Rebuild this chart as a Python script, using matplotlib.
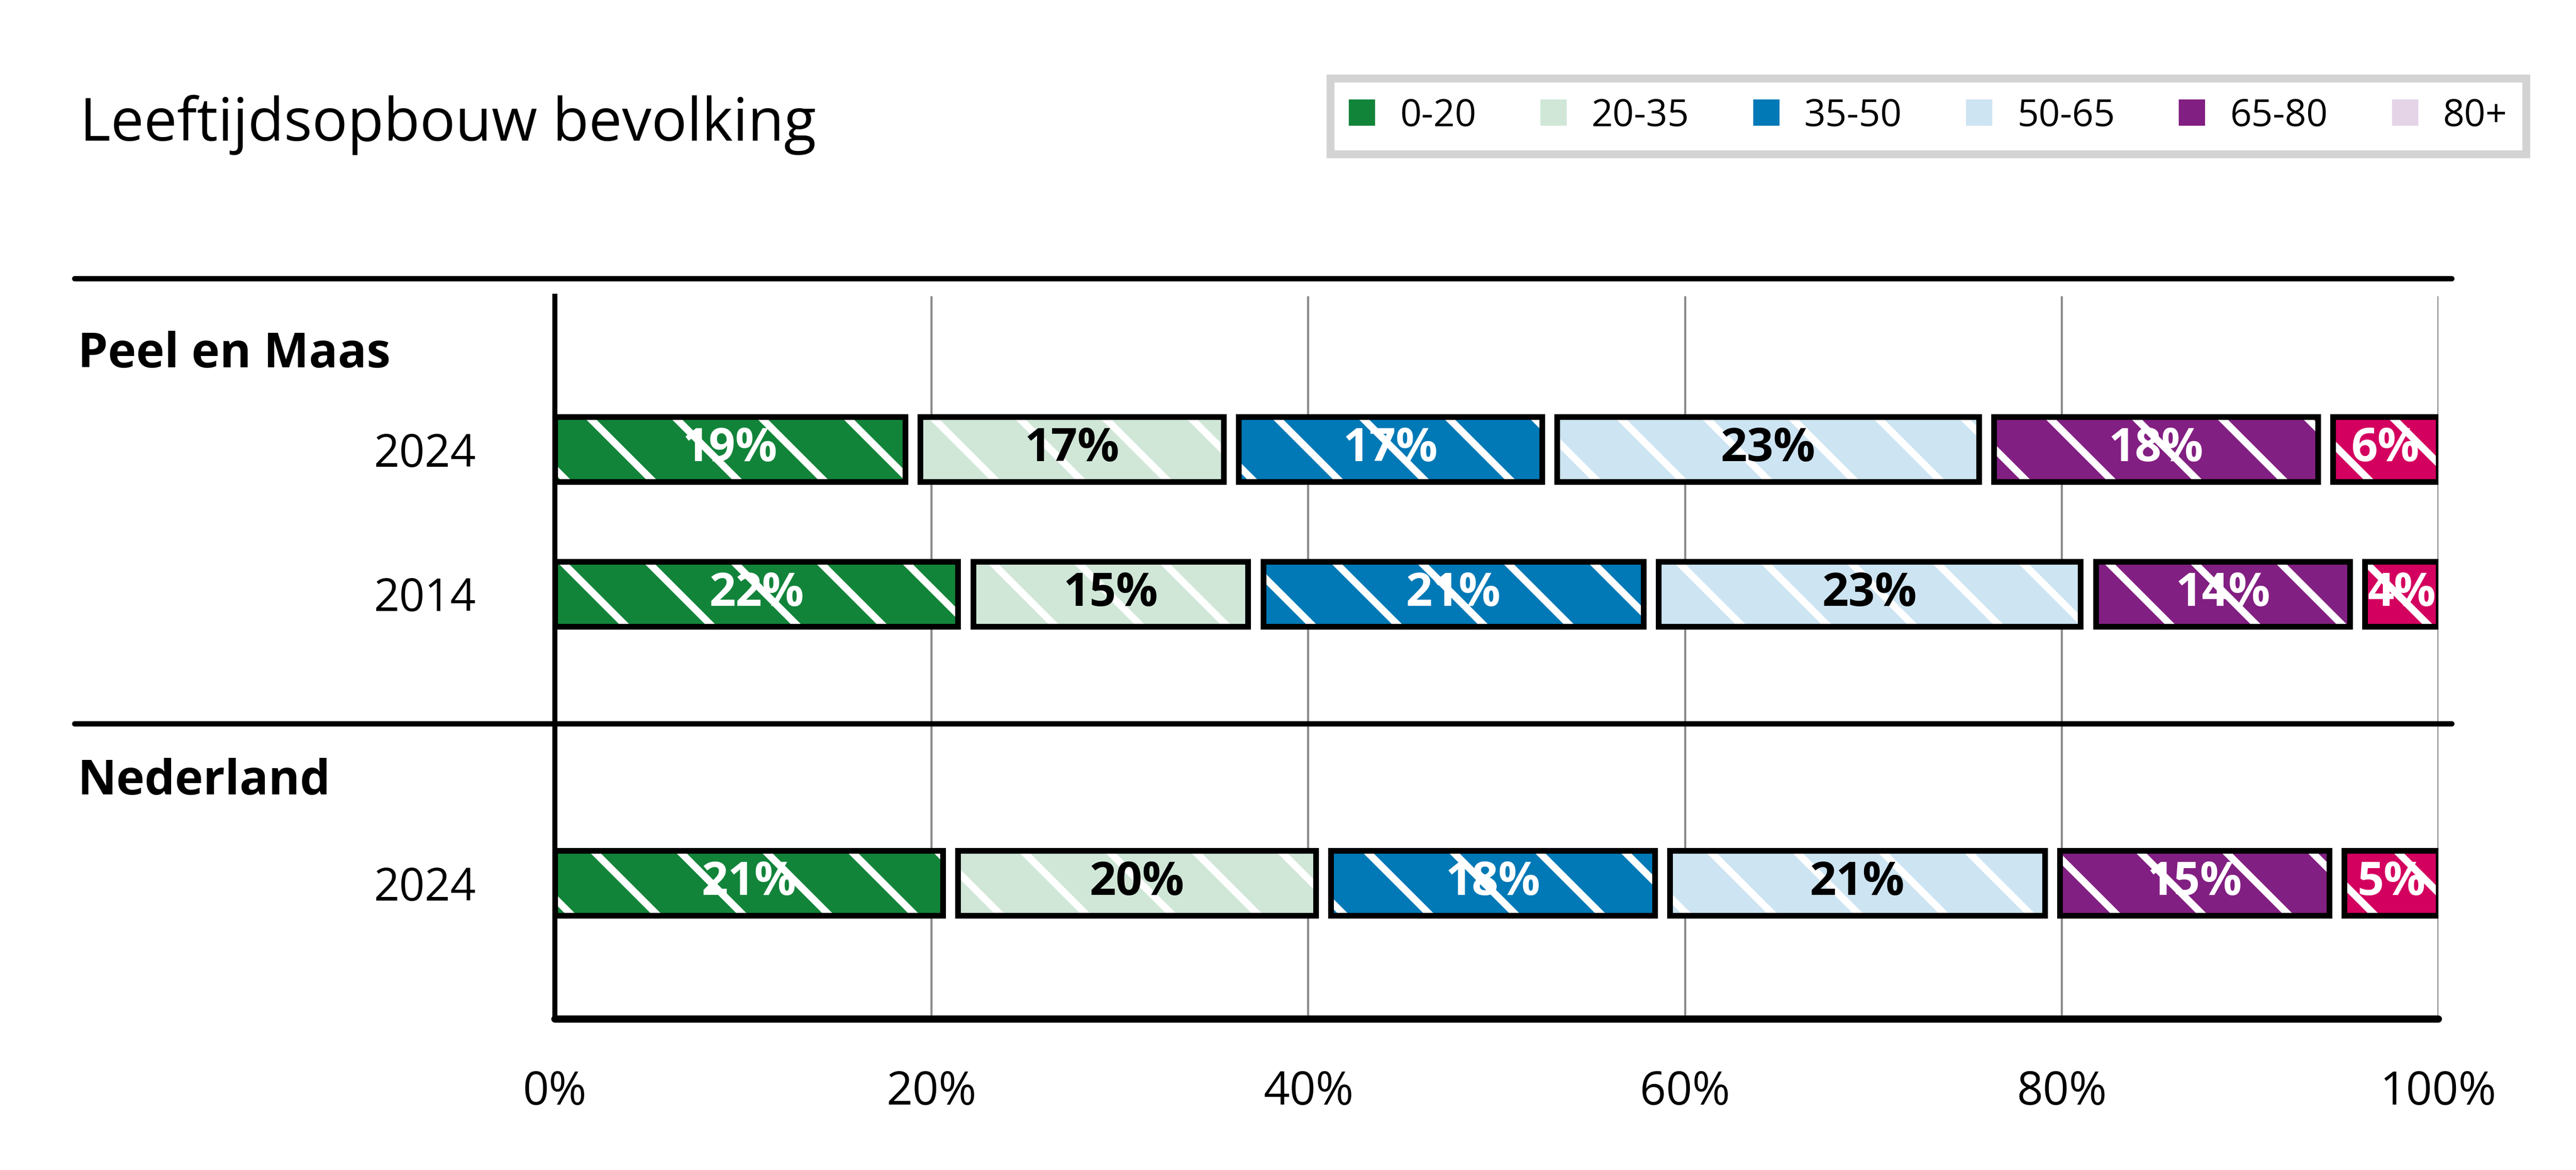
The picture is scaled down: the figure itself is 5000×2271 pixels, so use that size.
import numpy as np
import matplotlib.pyplot as plt
import matplotlib.transforms as mtransforms
from matplotlib.patches import Patch

plt.rcParams['font.family'] = ['Open Sans', 'DejaVu Sans']
plt.rcParams['hatch.linewidth'] = 2.0

# data (percent of population per age group)
age_groups = ["0-20", "20-35", "35-50", "50-65", "65-80", "80+"]
group_names = ["Peel en Maas", "Nederland"]
row_labels = ["2024", "2014", "2024"]
peel_2024 = [19.0, 16.9, 16.9, 23.2, 18.0, 6.0]
peel_2014 = [21.8, 15.4, 21.0, 23.2, 14.3, 4.3]
nl_2024 = [21.0, 19.8, 18.0, 20.7, 15.1, 5.4]

bar_colors = ["#12843a", "#d0e7d8", "#0079b6", "#cde4f2", "#821f82", "#d4005f"]
legend_colors = ["#12843a", "#d0e7d8", "#0079b6", "#cde4f2", "#821f82", "#e5d3e8"]
text_colors = ["white", "black", "white", "black", "white", "white"]

rows = [peel_2024, peel_2014, nl_2024]
ypos = [0, 1, 3]
group_y = [-0.655, 2.3]

fig = plt.figure(figsize=(10, 4.542), dpi=500)
ax = fig.add_axes([0.2154, 0.129, 0.7312, 0.618])

gap = 0.4
for y, vals in zip(ypos, rows):
    left = 0
    for i, v in enumerate(vals):
        lo = left + (gap if i > 0 else 0)
        hi = left + v - (gap if i < len(vals) - 1 else 0)
        ax.barh(y, hi - lo, left=lo, height=0.45, color=bar_colors[i],
                edgecolor="white", hatch="\\", linewidth=0, zorder=3)
        ax.barh(y, hi - lo, left=lo, height=0.45, color="none",
                edgecolor="black", linewidth=1.6, zorder=4)
        ax.text((lo + hi) / 2, y, f"{round(v)}%", ha="center", va="center",
                color=text_colors[i], fontsize=13, fontweight="bold", zorder=5)
        left += v

ax.set_xlim(0, 100)
ax.set_ylim(3.94, -1.06)
ax.set_xticks([0, 20, 40, 60, 80, 100], ["0%", "20%", "40%", "60%", "80%", "100%"])
ax.set_yticks(ypos, row_labels)
ax.tick_params(axis="x", length=0, pad=14, labelsize=12.8)
ax.tick_params(axis="y", length=0, pad=22, labelsize=12.5)
ax.xaxis.grid(True, color="#8c8c8c", linewidth=0.6, zorder=0)
ax.set_axisbelow(True)
for s in ["top", "right"]:
    ax.spines[s].set_visible(False)
ax.spines["left"].set_linewidth(1.4)
ax.spines["bottom"].set_linewidth(2.0)
ax.spines["bottom"].set_capstyle("round")

trans = mtransforms.blended_transform_factory(ax.transAxes, ax.transData)
for yy in [-1.18, 1.9]:
    ax.plot([-0.255, 1.007], [yy, yy], transform=trans, color="black",
            linewidth=1.5, solid_capstyle="round", clip_on=False)
for name, gy in zip(group_names, group_y):
    ax.text(-0.2533, gy, name, transform=trans, fontsize=13.4,
            fontweight="bold", va="center", ha="left")

fig.text(0.031, 0.8934, "Leeftijdsopbouw bevolking", fontsize=16.5, va="center")

handles = [Patch(facecolor=c, edgecolor="none") for c in legend_colors]
leg = fig.legend(handles, age_groups, ncol=6, loc="upper right",
                 bbox_to_anchor=(0.9806, 0.9331), frameon=True, fancybox=False,
                 edgecolor="#c8c8c8", fontsize=10.5, handlelength=0.7,
                 handleheight=0.7, handletextpad=0.66, columnspacing=1.7,
                 borderpad=0.5, borderaxespad=0)
leg.get_frame().set_linewidth(2.2)

fig.savefig("out.png", dpi=500)
